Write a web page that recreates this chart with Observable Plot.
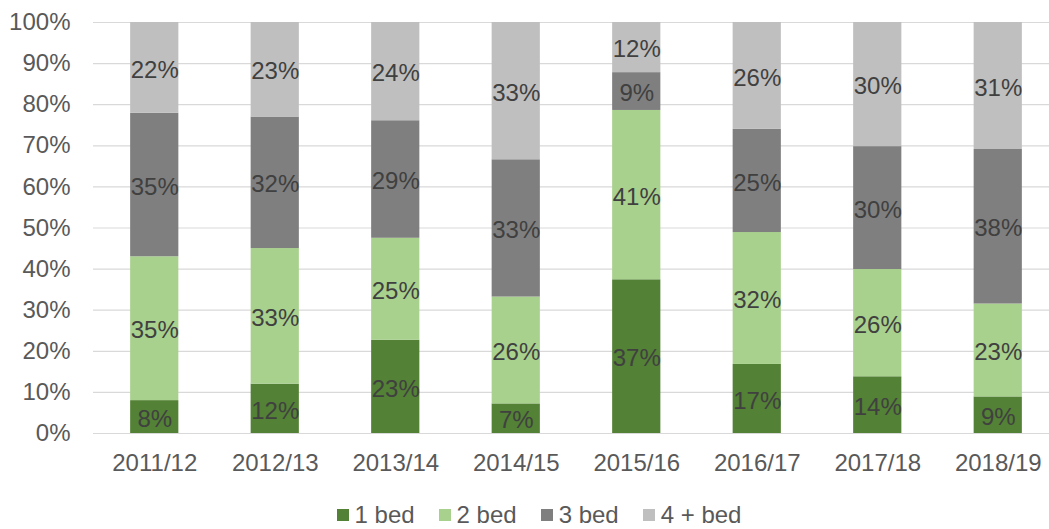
<!DOCTYPE html>
<html>
<head>
<meta charset="utf-8">
<script src="https://cdn.jsdelivr.net/npm/d3@7"></script>
<script src="https://cdn.jsdelivr.net/npm/@observablehq/plot@0.6"></script>
<style>
  html, body { margin: 0; padding: 0; background: #fff; }
  #chart { width: 1049px; height: 529px; position: relative; overflow: hidden; font-family: "Liberation Sans", Arial, sans-serif; }
  #legend { height: 29px; line-height: 29px; display: flex; justify-content: center; padding-left: 29px; font-size: 24px; color: #595959; }
  .item { display: flex; align-items: center; margin: 0 12px; }
  .sw { width: 12px; height: 12px; margin-right: 6px; display: inline-block; }
</style>
</head>
<body>
<div id="chart"></div>
<script>
const years = ["2011/12", "2012/13", "2013/14", "2014/15", "2015/16", "2016/17", "2017/18", "2018/19"];
const seriesNames = ["1 bed", "2 bed", "3 bed", "4 + bed"];
const seriesColors = ["#538135", "#a9d18e", "#7f7f7f", "#bfbfbf"];
const bed1 = [8.0, 12.0, 22.7, 7.2, 37.4, 16.8, 13.8, 8.9];
const bed2 = [35.0, 33.0, 24.8, 26.0, 41.2, 32.1, 26.1, 22.6];
const bed3 = [34.9, 32.0, 28.6, 33.4, 9.2, 25.1, 29.9, 37.6];
const bed4 = [22.1, 23.0, 23.9, 33.4, 12.2, 26.0, 30.2, 30.9];
const yTicks = [0, 10, 20, 30, 40, 50, 60, 70, 80, 90, 100];

const seriesValues = [bed1, bed2, bed3, bed4];
const data = [];
seriesNames.forEach((s, si) => {
  years.forEach((y, yi) => data.push({year: y, bed: s, value: seriesValues[si][yi]}));
});

const font = '"Liberation Sans", Arial, sans-serif';

const plot = Plot.plot({
  width: 1049,
  height: 500,
  marginLeft: 93,
  marginRight: 0,
  marginTop: 22,
  marginBottom: 67,
  style: {fontFamily: font, fontSize: "24px", color: "#595959", background: "#fff", overflow: "visible"},
  x: {domain: years, range: [94, 1058], paddingInner: 0.6, paddingOuter: 0.3, round: false, label: null},
  y: {domain: [0, 100], label: null},
  color: {domain: seriesNames, range: seriesColors},
  marks: [
    Plot.ruleY(yTicks, {stroke: "#d9d9d9", strokeWidth: 1.2}),
    Plot.barY(data, Plot.stackY({x: "year", y: "value", fill: "bed", order: null})),
    Plot.text(data, Plot.stackY({x: "year", y: "value", z: "bed", order: null, text: d => Math.round(d.value) + "%", fill: "#404040", fontSize: 24, dy: 2})),
    Plot.axisY({ticks: yTicks, tickFormat: d => d + "%", tickSize: 0, tickPadding: 23, fontSize: 24, fill: "#595959"}),
    Plot.axisX({tickSize: 0, tickPadding: 20, fontSize: 24, fill: "#595959"})
  ]
});

const chart = document.getElementById("chart");
chart.appendChild(plot);

const legend = document.createElement("div");
legend.id = "legend";
seriesNames.forEach((s, i) => {
  const it = document.createElement("span");
  it.className = "item";
  const sw = document.createElement("span");
  sw.className = "sw";
  sw.style.background = seriesColors[i];
  it.appendChild(sw);
  it.appendChild(document.createTextNode(s));
  legend.appendChild(it);
});
chart.appendChild(legend);
</script>
</body>
</html>
